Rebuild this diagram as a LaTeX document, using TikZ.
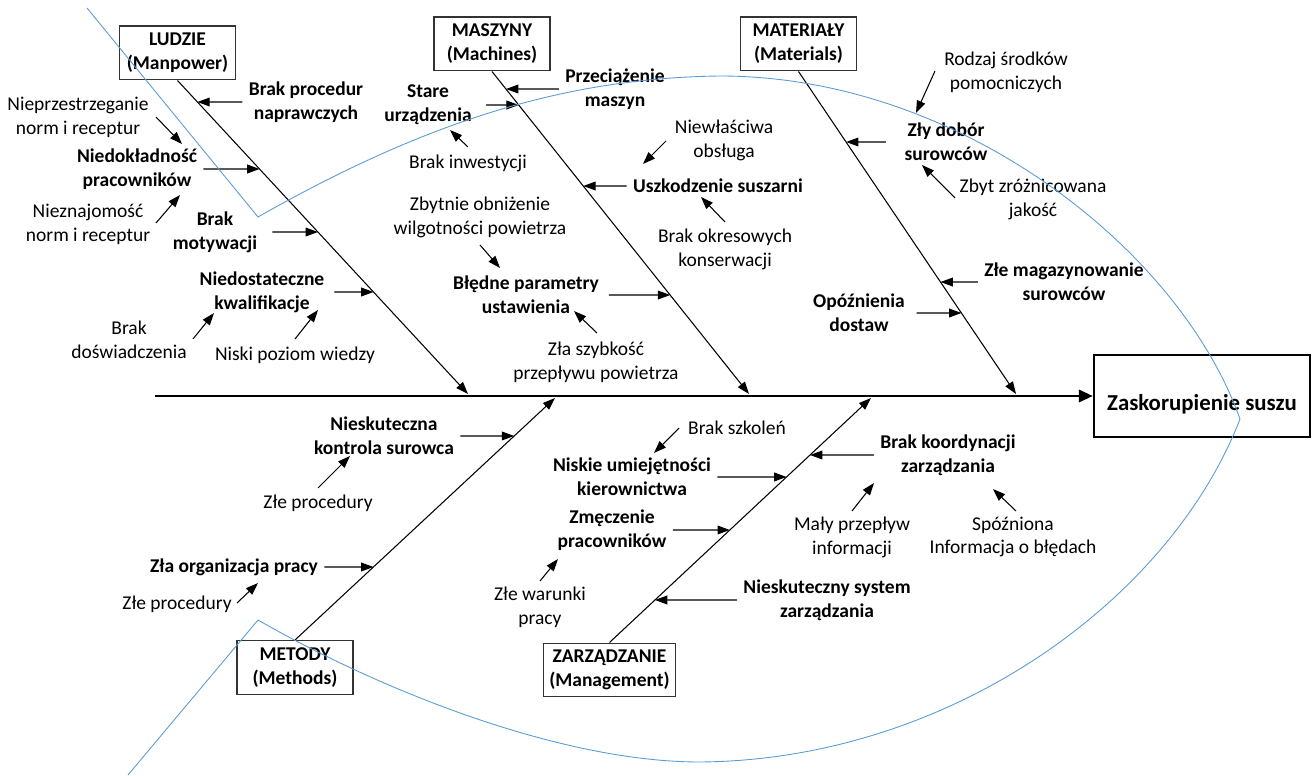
\documentclass[tikz,border=0pt]{standalone}
\usepackage{fontspec}
\setmainfont{Carlito}
\usepackage{xcolor}
\usepackage{tikz}
\usetikzlibrary{arrows.meta}
\usetikzlibrary{calc}

\newcommand{\pismo}{\fontsize{11.1pt}{13.6pt}\selectfont}
\definecolor{rybi}{RGB}{91,155,213}

\begin{document}
\begin{tikzpicture}[
    x=0.02cm, y=-0.02cm,
    every node/.style={font=\pismo},
    kategoria/.style={draw=black!80, line width=0.6pt, fill=white, font=\pismo\bfseries,
        align=center, inner xsep=3.5pt, inner ysep=1pt, minimum width=66pt, minimum height=30.7pt},
    skutek/.style={draw=black, line width=1.4pt, font=\fontsize{13pt}{16pt}\selectfont\bfseries,
        minimum width=122.9pt, minimum height=46.7pt, text height=17pt, text depth=1pt},
    przyczyna/.style={font=\pismo\bfseries, align=center, inner xsep=3.5pt, inner ysep=2pt},
    detal/.style={align=center, inner sep=2pt},
    os/.style={line width=1.6pt, -{Triangle[length=8pt,width=7pt]}},
    osc/.style={line width=0.6pt, -{Triangle[length=7pt,width=5pt]}},
    strz/.style={line width=0.6pt, -{Triangle[length=7pt,width=5pt]}},
    ryba/.style={draw=rybi, line width=0.5pt}
]
\useasboundingbox (0,0) rectangle (1312,776);

% glowa i kregoslup
\node[skutek] (skutek) at (1202,396) {Zaskorupienie suszu};
\coordinate (ogon) at (155,396);
\draw[os] (ogon) -- (skutek.west);

\node[kategoria] (ludzie) at (177.5,53) {LUDZIE\\(Manpower)};
\node[kategoria] (maszyny) at (492,44) {MASZYNY\\(Machines)};
\node[kategoria] (materialy) at (798.5,44) {MATERIAŁY\\(Materials)};
\node[kategoria] (metody) at (295,667.5) {METODY\\(Methods)};
\node[kategoria] (zarzadzanie) at (609.5,670) {ZARZĄDZANIE\\(Management)};

\coordinate (kL) at (468,394);
\coordinate (kMa) at (749,394);
\coordinate (kMt) at (1016,394);
\coordinate (kMe) at (555,398);
\coordinate (kZ) at (871,398);
\draw[osc] (ludzie.south) -- (kL);
\draw[osc] (maszyny.south) -- (kMa);
\draw[osc] (materialy.south) -- (kMt);
\draw[osc] (metody.north) -- (kMe);
\draw[osc] (zarzadzanie.north) -- (kZ);

% ludzie
\node[przyczyna] (bpn) at (306,102) {Brak procedur\\naprawczych};
\node[przyczyna] (niedok) at (137,169) {Niedokładność\\pracowników};
\node[przyczyna] (motyw) at (215,232) {Brak\\motywacji};
\node[przyczyna] (kwalif) at (262,292) {Niedostateczne\\kwalifikacje};
\node[detal] (nieprz) at (78,117) {Nieprzestrzeganie\\norm i receptur};
\node[detal] (nieznaj) at (88,224) {Nieznajomość\\norm i receptur};
\node[detal] (dosw) at (129,340) {Brak\\doświadczenia};
\node[detal] (wiedza) at (295,355) {Niski poziom wiedzy};

\draw[strz] (bpn.west) -- (intersection of ludzie.south--kL and bpn.west--bpn.east);
\draw[strz] (niedok.east) -- (intersection of ludzie.south--kL and niedok.west--niedok.east);
\draw[strz, shorten <=5pt] (motyw.east) -- (intersection of ludzie.south--kL and motyw.west--motyw.east);
\draw[strz, shorten <=2pt] (kwalif.east) -- (intersection of ludzie.south--kL and kwalif.west--kwalif.east);
\draw[strz] ($(nieprz)+(78,0)$) -- ($(niedok)+(45,-25)$);
\draw[strz] ($(nieznaj)+(68,-1)$) -- ($(niedok)+(43,26)$);
\draw[strz] ($(dosw)+(64,-1)$) -- ($(kwalif)+(-48,21)$);
\draw[strz] ($(wiedza)+(0,-16)$) -- ($(kwalif)+(56,18)$);

% maszyny
\node[przyczyna] (stare) at (428,105) {Stare\\urządzenia};
\node[przyczyna] (przec) at (615,89) {Przeciążenie\\maszyn};
\node[przyczyna] (uszk) at (718,186) {Uszkodzenie suszarni};
\node[przyczyna] (param) at (526,295) {Błędne parametry\\ustawienia};
\node[detal] (inwest) at (468,163) {Brak inwestycji};
\node[detal] (obsluga) at (724,140) {Niewłaściwa\\obsługa};
\node[detal] (konserw) at (725,249) {Brak okresowych\\konserwacji};
\node[detal] (wilg) at (480,217) {Zbytnie obniżenie\\wilgotności powietrza};
\node[detal] (przepl) at (596,362) {Zła szybkość\\przepływu powietrza};

\draw[strz, shorten <=4.5pt] (stare.east) -- (intersection of maszyny.south--kMa and stare.west--stare.east);
\draw[strz] (przec.west) -- (intersection of maszyny.south--kMa and przec.west--przec.east);
\draw[strz] (uszk.west) -- (intersection of maszyny.south--kMa and uszk.west--uszk.east);
\draw[strz, shorten <=2pt] (param.east) -- (intersection of maszyny.south--kMa and param.west--param.east);
\draw[strz] ($(inwest)+(0,-16)$) -- ($(stare)+(22,25)$);
\draw[strz] ($(obsluga)+(-58,1)$) -- ($(uszk)+(-75,-22)$);
\draw[strz] ($(konserw)+(0,-27)$) -- ($(uszk)+(-17,11)$);
\draw[strz] ($(wilg)+(0,28)$) -- ($(param)+(-26,-27)$);
\draw[strz] ($(przepl)+(1,-29)$) -- ($(param)+(48,16)$);

% materialy
\node[przyczyna] (dobor) at (946,142) {Zły dobór\\surowców};
\node[przyczyna] (magaz) at (1064,282) {Złe magazynowanie\\surowców};
\node[przyczyna] (dostawy) at (859,313) {Opóźnienia\\dostaw};
\node[detal] (srodki) at (1006,72) {Rodzaj środków\\pomocniczych};
\node[detal] (jakosc) at (1033,199) {Zbyt zróżnicowana\\jakość};

\draw[strz, shorten <=7pt] (dobor.west) -- (intersection of materialy.south--kMt and dobor.west--dobor.east);
\draw[strz] (magaz.west) -- (intersection of materialy.south--kMt and magaz.west--magaz.east);
\draw[strz, shorten <=3pt] (dostawy.east) -- (intersection of materialy.south--kMt and dostawy.west--dostawy.east);
\draw[strz] ($(srodki)+(-71,-1)$) -- ($(dobor)+(-30,-29)$);
\draw[strz] ($(jakosc)+(-78,-1)$) -- ($(dobor)+(-24,23)$);

% metody
\node[przyczyna] (kontrola) at (384,436) {Nieskuteczna\\kontrola surowca};
\node[przyczyna] (organiz) at (234,567) {Zła organizacja pracy};
\node[detal] (proc1) at (318,503) {Złe procedury};
\node[detal] (proc2) at (177,604) {Złe procedury};

\draw[strz] (kontrola.east) -- (intersection of metody.north--kMe and kontrola.west--kontrola.east);
\draw[strz] (organiz.east) -- (intersection of metody.north--kMe and organiz.west--organiz.east);
\draw[strz] ($(proc1)+(0,-15)$) -- ($(kontrola)+(-34,20)$);
\draw[strz] ($(proc2)+(60,-1)$) -- ($(organiz)+(24,16)$);

% zarzadzanie
\node[przyczyna] (umiej) at (632,477) {Niskie umiejętności\\kierownictwa};
\node[przyczyna] (zmecz) at (612,530) {Zmęczenie\\pracowników};
\node[przyczyna] (system) at (827,600) {Nieskuteczny system\\zarządzania};
\node[przyczyna] (koord) at (948,455) {Brak koordynacji\\zarządzania};
\node[detal] (szkol) at (737,428) {Brak szkoleń};
\node[detal] (warunki) at (540,607) {Złe warunki\\pracy};
\node[detal] (maly) at (852,537) {Mały przepływ\\informacji};
\node[detal] (spozn) at (1013,537) {Spóźniona\\Informacja o błędach};

\draw[strz] (umiej.east) -- (intersection of zarzadzanie.north--kZ and umiej.west--umiej.east);
\draw[strz] (zmecz.east) -- (intersection of zarzadzanie.north--kZ and zmecz.west--zmecz.east);
\draw[strz] (system.west) -- (intersection of zarzadzanie.north--kZ and system.west--system.east);
\draw[strz] (koord.west) -- (intersection of zarzadzanie.north--kZ and koord.west--koord.east);
\draw[strz] ($(szkol)+(-58,0)$) -- ($(umiej)+(22,-24)$);
\draw[strz] ($(warunki)+(0,-26)$) -- ($(zmecz)+(-54,29)$);
\draw[strz] ($(maly)+(0,-26)$) -- ($(koord)+(-74,28)$);
\draw[strz] ($(spozn)+(3,-26)$) -- ($(koord)+(45,34)$);

% obrys ryby
\draw[ryba] (87,8) -- (258,217)
    .. controls (420,125) and (560,78) .. (720,76)
    .. controls (960,76) and (1180,250) .. (1240,419)
    .. controls (1170,600) and (950,760) .. (700,762)
    .. controls (560,762) and (380,690) .. (258,620)
    -- (128,775);
\end{tikzpicture}
\end{document}
